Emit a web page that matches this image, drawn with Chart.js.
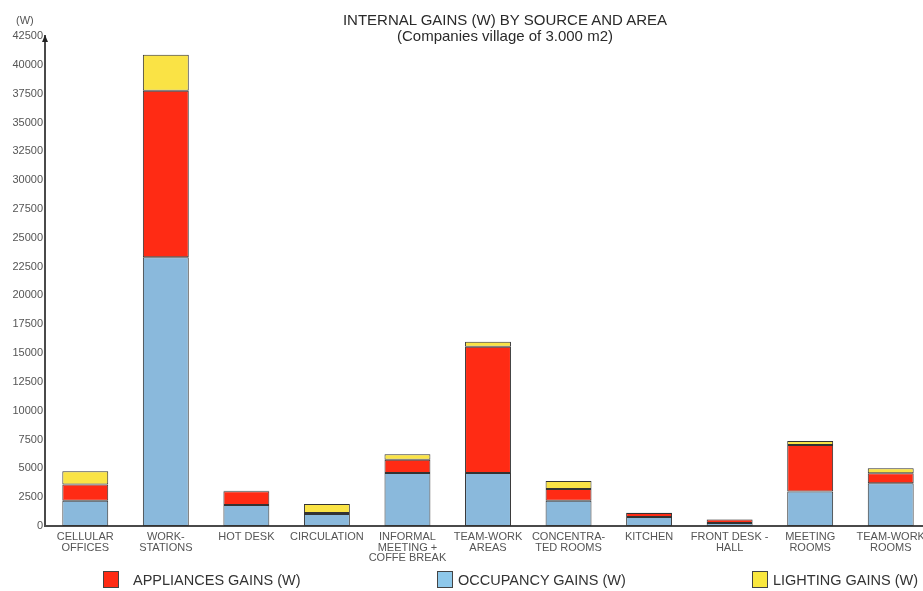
<!DOCTYPE html>
<html lang="en">
<head>
<meta charset="UTF-8">
<title>Internal gains by source and area</title>
<script src="https://cdn.jsdelivr.net/npm/chart.js"></script>
<style>
  html, body { margin: 0; padding: 0; background: #fff; overflow: hidden; }
  #wrap { position: relative; width: 923px; height: 591px; overflow: hidden; font-family: "Liberation Sans", Arial, sans-serif; }
  #chart { position: absolute; left: 0; top: 0; }
  .title { position: absolute; left: 505px; transform: translateX(-50%); white-space: nowrap; font-size: 15px; color: #2a2a2a; line-height: 1; }
  .unit { position: absolute; left: 16px; top: 14px; font-size: 11px; color: #555; }
  .leg { position: absolute; top: 571px; font-size: 14.5px; color: #333; white-space: nowrap; line-height: 18px; }
  .leg i { position: absolute; width: 16px; height: 17px; border: 1px solid #444; box-sizing: border-box; }
</style>
</head>
<body>
<div id="wrap">
  <canvas id="chart" width="935" height="591"></canvas>
  <div class="title" style="top: 12px;">INTERNAL GAINS (W) BY SOURCE AND AREA</div>
  <div class="title" style="top: 28px;">(Companies village of 3.000 m2)</div>
  <div class="unit">(W)</div>
  <div class="leg" style="left: 103px;"><i style="left: 0; background: #ff2b14;"></i><span style="margin-left: 30px;">APPLIANCES GAINS (W)</span></div>
  <div class="leg" style="left: 437px;"><i style="left: 0; background: #8ec8ea;"></i><span style="margin-left: 21px;">OCCUPANCY GAINS (W)</span></div>
  <div class="leg" style="left: 752px;"><i style="left: 0; background: #fbe83f;"></i><span style="margin-left: 21px;">LIGHTING GAINS (W)</span></div>
</div>
<script>
// areas of the office village
const areas = [
  ['CELLULAR', 'OFFICES'],
  ['WORK-', 'STATIONS'],
  ['HOT DESK'],
  ['CIRCULATION'],
  ['INFORMAL', 'MEETING +', 'COFFE BREAK'],
  ['TEAM-WORK', 'AREAS'],
  ['CONCENTRA-', 'TED ROOMS'],
  ['KITCHEN'],
  ['FRONT DESK -', 'HALL'],
  ['MEETING', 'ROOMS'],
  ['TEAM-WORK', 'ROOMS']
];

// gains in W, stacked bottom to top: occupancy, appliances, lighting
const occupancyGains  = [2200, 23300, 1820, 1050, 4600, 4600, 2200, 780, 260, 3000, 3700];
const appliancesGains = [1400, 14450, 1200,   80, 1150, 10950, 1000, 350, 300, 4030,  870];
const lightingGains   = [1150,  3120,   40,  780,  480,   430,  700,  30,  20,  350,  430];

const yMax = 42500;
const yStep = 2500;

// small arrow head on top of the value axis
const axisArrow = {
  id: 'axisArrow',
  afterDraw(chart) {
    const { ctx, chartArea } = chart;
    const x = chartArea.left;
    const y = chartArea.top;
    ctx.save();
    ctx.fillStyle = '#222';
    ctx.beginPath();
    ctx.moveTo(x - 3, y + 6);
    ctx.lineTo(x, y - 1);
    ctx.lineTo(x + 3, y + 6);
    ctx.closePath();
    ctx.fill();
    ctx.restore();
  }
};

const segment = {
  borderColor: '#333',
  borderWidth: 1,
  borderSkipped: false,
  barPercentage: 0.57,
  categoryPercentage: 1
};

new Chart(document.getElementById('chart'), {
  type: 'bar',
  data: {
    labels: areas,
    datasets: [
      Object.assign({ label: 'OCCUPANCY GAINS (W)', data: occupancyGains, backgroundColor: '#8ab9dc' }, segment),
      Object.assign({ label: 'APPLIANCES GAINS (W)', data: appliancesGains, backgroundColor: '#ff2b14' }, segment),
      Object.assign({ label: 'LIGHTING GAINS (W)', data: lightingGains, backgroundColor: '#fae345' }, segment)
    ]
  },
  options: {
    responsive: false,
    animation: false,
    devicePixelRatio: 1,
    layout: { padding: { top: 36, right: 4, bottom: 0, left: 0 } },
    plugins: {
      legend: { display: false },
      title: { display: false },
      tooltip: { enabled: false }
    },
    scales: {
      x: {
        stacked: true,
        offset: true,
        grid: { display: false, drawTicks: false },
        border: { display: true, color: '#4a4a4a', width: 2 },
        ticks: {
          color: '#555',
          padding: 6,
          maxRotation: 0,
          autoSkip: false,
          font: { family: '"Liberation Sans", Arial, sans-serif', size: 11, lineHeight: 0.95 }
        },
        afterFit(scale) { scale.height = 65; }
      },
      y: {
        stacked: true,
        min: 0,
        max: yMax,
        grid: { display: false, drawTicks: false },
        border: { display: true, color: '#4a4a4a', width: 2 },
        ticks: {
          stepSize: yStep,
          color: '#555',
          padding: 2,
          font: { family: '"Liberation Sans", Arial, sans-serif', size: 11 },
          callback: (value) => String(value)
        },
        afterFit(scale) { scale.width = 45; }
      }
    }
  },
  plugins: [axisArrow]
});
</script>
</body>
</html>
